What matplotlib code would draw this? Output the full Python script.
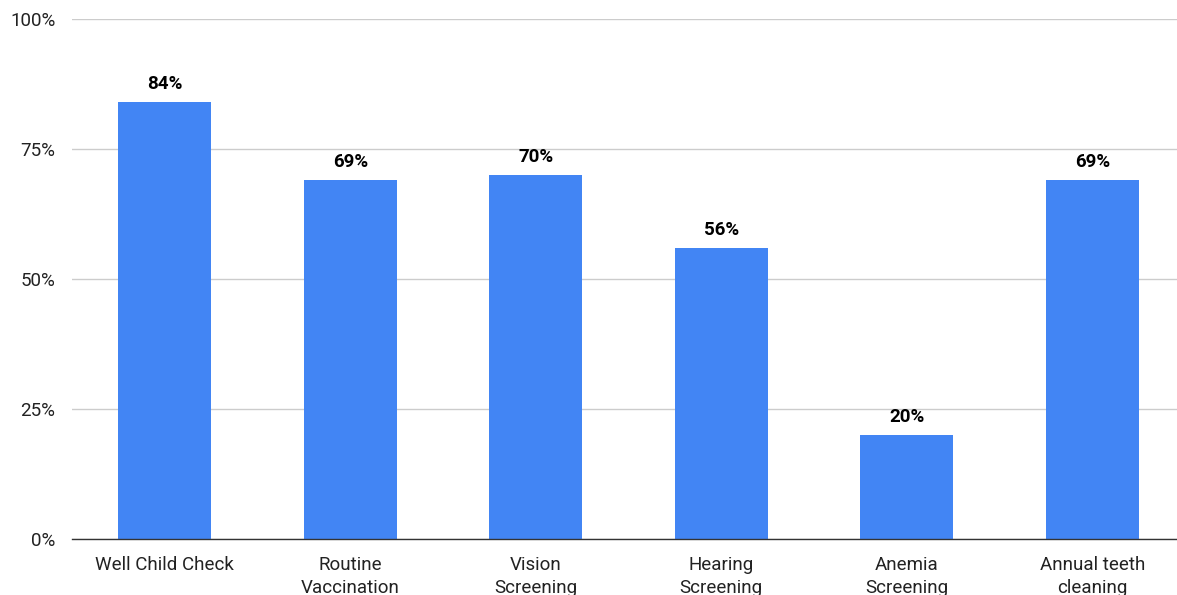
import matplotlib.pyplot as plt
from matplotlib.ticker import FixedLocator

categories = ["Well Child Check", "Routine\nVaccination", "Vision\nScreening",
              "Hearing\nScreening", "Anemia\nScreening", "Annual teeth\ncleaning"]
values = [84, 69, 70, 56, 20, 69]
y_ticks = [0, 25, 50, 75, 100]
y_tick_labels = ["0%", "25%", "50%", "75%", "100%"]

plt.rcParams["font.family"] = ["Roboto", "DejaVu Sans"]

W, H = 1177, 595
fig = plt.figure(figsize=(W / 100, H / 100), dpi=100)
left, right, top, bottom = 72, 1177, 19, 539
ax = fig.add_axes([left / W, 1 - bottom / H, (right - left) / W, (bottom - top) / H])

x = range(len(categories))
ax.bar(x, values, width=0.5, color="#4285F4", zorder=3)

for xi, v in zip(x, values):
    ax.annotate(f"{v}%", (xi, v), xytext=(0, 13), textcoords="offset points",
                ha="center", va="center", fontsize=13.5, fontweight="bold",
                color="#000000")

ax.set_xlim(-0.5, (right - left) / 185.5 - 0.5)
ax.set_ylim(0, 100)
ax.yaxis.set_major_locator(FixedLocator(y_ticks))
ax.set_yticklabels(y_tick_labels)
ax.set_xticks(list(x))
ax.set_xticklabels(categories, linespacing=1.33)

ax.grid(axis="y", color="#cccccc", linewidth=1, zorder=0)
for s in ["top", "right", "left"]:
    ax.spines[s].set_visible(False)
ax.spines["bottom"].set_color("#333333")
ax.spines["bottom"].set_linewidth(1)
ax.spines["bottom"].set_zorder(4)

ax.tick_params(axis="both", length=0, labelsize=13.5, colors="#222222")
ax.tick_params(axis="y", pad=12)
ax.tick_params(axis="x", pad=12.5)

fig.savefig("out.png", dpi=100)
